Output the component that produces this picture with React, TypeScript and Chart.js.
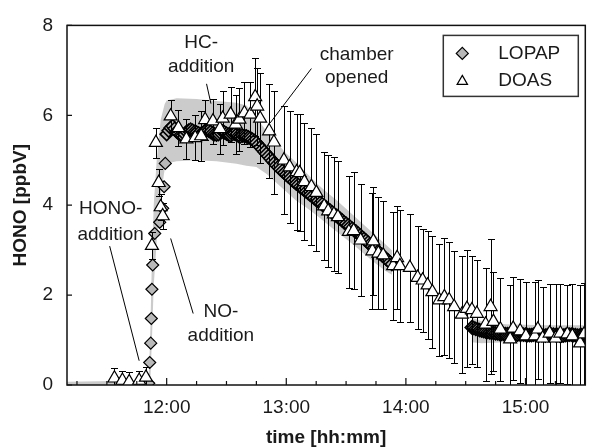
import { useEffect, useRef } from "react";
import { Chart, registerables } from "chart.js";

Chart.register(...registerables);

// time axis in minutes after midnight
const X_MIN = 670; // 11:10
const X_MAX = 930; // 15:30
const X_MAJOR = [720, 780, 840, 900];
const X_MINOR_STEP = 15;
const Y_TICKS = [0, 2, 4, 6, 8];

// LOPAP – isolated points during the HONO addition
const LOPAP_RISE_T = [698, 711.0, 711.5, 712.0, 712.3, 712.6, 713.0, 714.0, 716.5, 718.0, 718.7, 719.3];
const LOPAP_RISE_V = [-0.05, 0.04, 0.5, 0.93, 1.48, 2.13, 2.67, 3.37, 3.62, 3.93, 4.41, 4.93];

// LOPAP – 1-min data from 12:00 to 13:53
const LOPAP_A_START = 720;
const LOPAP_A = [
  5.58, 5.66, 5.72, 5.76, 5.70, 5.64, 5.60, 5.56, 5.55, 5.58,
  5.63, 5.66, 5.68, 5.66, 5.63, 5.62, 5.60, 5.58, 5.60, 5.64,
  5.67, 5.66, 5.63, 5.60, 5.58, 5.57, 5.58, 5.61, 5.64, 5.62,
  5.59, 5.57, 5.56, 5.58, 5.59, 5.57, 5.54, 5.53, 5.55, 5.54,
  5.53, 5.51, 5.49, 5.46, 5.43, 5.39, 5.34, 5.29, 5.24, 5.19,
  5.14, 5.09, 5.04, 4.99, 4.94, 4.89, 4.85, 4.80, 4.76, 4.72,
  4.68, 4.64, 4.60, 4.56, 4.52, 4.48, 4.45, 4.41, 4.38, 4.34,
  4.30, 4.27, 4.23, 4.20, 4.16, 4.12, 4.09, 4.05, 4.02, 3.98,
  3.95, 3.91, 3.88, 3.84, 3.80, 3.77, 3.73, 3.70, 3.66, 3.62,
  3.59, 3.55, 3.52, 3.48, 3.44, 3.41, 3.37, 3.33, 3.29, 3.25,
  3.21, 3.17, 3.13, 3.09, 3.05, 3.01, 2.97, 2.93, 2.89, 2.85,
  2.81, 2.77, 2.73, 2.69,
];

// LOPAP – 1-min data from 14:33 to 15:30
const LOPAP_B_START = 873;
const LOPAP_B = [
  1.28, 1.27, 1.25, 1.24, 1.22, 1.21, 1.20, 1.19, 1.18, 1.17,
  1.16, 1.16, 1.15, 1.15, 1.14, 1.14, 1.14, 1.13, 1.13, 1.13,
  1.13, 1.12, 1.12, 1.12, 1.13, 1.13, 1.12, 1.12, 1.11, 1.11,
  1.11, 1.12, 1.12, 1.11, 1.11, 1.11, 1.10, 1.10, 1.11, 1.11,
  1.12, 1.12, 1.11, 1.11, 1.10, 1.10, 1.10, 1.11, 1.11, 1.12,
  1.12, 1.11, 1.11, 1.10, 1.10, 1.11, 1.11, 1.12,
];

// LOPAP uncertainty band (read from the grey envelope)
const BAND1_T = [670, 711, 711.8, 712.6, 713.5, 715, 717, 719, 720, 725, 735, 745, 755, 760, 765, 770, 775, 780, 785, 790, 795, 800, 805, 810, 815, 820, 825, 830, 833];
const BAND1_LO = [-0.03, -0.03, 0.1, 1.0, 2.2, 3.2, 4.2, 4.8, 4.93, 4.98, 5.0, 4.98, 4.92, 4.88, 4.85, 4.70, 4.50, 4.30, 4.10, 3.95, 3.78, 3.60, 3.42, 3.25, 3.07, 2.88, 2.70, 2.53, 2.45];
const BAND1_HI = [0.07, 0.1, 1.2, 2.8, 4.0, 5.0, 5.9, 6.25, 6.33, 6.38, 6.36, 6.32, 6.28, 6.22, 5.95, 5.65, 5.40, 5.15, 4.95, 4.72, 4.50, 4.30, 4.12, 3.92, 3.72, 3.52, 3.32, 3.12, 3.00];
const BAND2_T = [873, 878, 890, 910, 930];
const BAND2_LO = [0.95, 0.93, 0.95, 0.95, 0.95];
const BAND2_HI = [1.5, 1.42, 1.35, 1.33, 1.33];

// DOAS
const DOAS_T = [
  693.8, 697.8, 701.2, 706.2, 709.6,
  712.6, 714.6, 716.0, 717.0, 718.0,
  722.0, 725.9, 729.9, 734.3, 737.3, 739.3, 743.2, 746.7, 748.1, 752.1,
  754.6, 756.5, 759.0, 762.0, 764.4, 765.4, 766.9, 771.4, 773.8, 778.8,
  781.7, 785.2, 786.7, 789.1, 792.6, 795.1, 799.0, 801.0, 803.9, 805.9,
  811.4, 813.8, 817.3, 823.2, 823.7, 826.2, 828.6, 833.6, 835.6, 837.0,
  842.0, 845.9, 848.4, 850.9, 853.3, 856.8, 859.3, 861.7, 864.2, 868.1,
  870.6, 873.1, 875.6, 880.0, 882.5, 883.9, 887.4, 892.3, 893.8, 897.3,
  900.2, 904.7, 906.2, 908.6, 912.1, 915.1, 917.5, 921.0, 923.5, 927.4,
  929.4,
];
const DOAS_V = [
  0.15, 0.10, 0.07, 0.10, 0.17,
  3.10, 5.39, 4.50, 3.96, 3.76,
  5.98, 5.72, 5.47, 5.50, 5.54, 5.90, 5.87, 5.70, 5.93, 6.02,
  5.80, 5.91, 6.05, 6.02, 6.41, 6.20, 5.93, 5.65, 5.40, 5.00,
  4.85, 4.74, 4.72, 4.52, 4.41, 4.28, 3.98, 3.87, 3.80, 3.74,
  3.41, 3.43, 3.22, 2.98, 3.20, 2.93, 2.89, 2.65, 2.83, 2.65,
  2.61, 2.39, 2.33, 2.22, 2.07, 1.89, 1.96, 1.89, 1.74, 1.57,
  1.70, 1.67, 1.59, 1.35, 1.74, 1.41, 1.24, 1.02, 1.26, 1.20,
  1.09, 1.09, 1.24, 1.04, 1.15, 1.04, 1.15, 1.13, 1.09, 0.93,
  1.13,
];
const DOAS_ERR = [
  0.22, 0.22, 0.22, 0.22, 0.22,
  0.30, 0.33, 0.30, 0.30, 0.30,
  0.35, 0.40, 0.45, 0.50, 0.55, 0.45, 0.50, 0.55, 0.60, 0.62,
  0.65, 0.70, 0.68, 0.72, 0.87, 0.85, 1.00, 1.05, 1.15, 1.20,
  1.25, 1.30, 1.30, 1.30, 1.30, 1.30, 1.20, 1.25, 1.27, 1.25,
  1.25, 1.30, 1.25, 1.30, 1.20, 1.25, 1.20, 1.20, 1.15, 1.25,
  1.20, 1.15, 1.15, 1.20, 1.25, 1.25, 1.30, 1.30, 1.25, 1.30,
  1.30, 1.20, 1.20, 1.25, 1.50, 1.10, 1.15, 1.20, 1.15, 1.15,
  1.20, 1.20, 1.10, 1.15, 1.10, 1.20, 1.10, 1.10, 1.15, 1.30,
  1.15,
];

// annotations: text lines centred at (t, v); leader line from/to (t, v)
const ANNOTATIONS = [
  { lines: ["HC-", "addition"], t: 737.3, v: [7.61, 7.07], from: [740.0, 6.70], to: [742.2, 6.26] },
  { lines: ["chamber", "opened"], t: 815.3, v: [7.35, 6.83], from: [792.6, 7.04], to: [771.9, 5.83] },
  { lines: ["HONO-", "addition"], t: 691.9, v: [3.91, 3.35], from: [691.4, 3.09], to: [706.2, 0.54] },
  { lines: ["NO-", "addition"], t: 747.2, v: [1.63, 1.09], from: [733.3, 1.59], to: [722.0, 3.26] },
];

const LEGEND = ["LOPAP", "DOAS"];

const FONT = "'Liberation Sans', Arial, Helvetica, sans-serif";
const INK = "#1a1a1a";
const LOPAP_FILL = "#b9b9b9";
const BAND_FILL = "#cbcbcb";

function fmt(m: number) {
  const h = Math.floor(m / 60);
  const mm = Math.round(m - h * 60);
  return `${h}:${mm < 10 ? "0" : ""}${mm}`;
}

function pts(ts: number[], vs: number[]) {
  return ts.map((t, i) => ({ x: t, y: vs[i] }));
}

function drawDiamond(ctx: CanvasRenderingContext2D, x: number, y: number, r: number) {
  ctx.beginPath();
  ctx.moveTo(x - r, y);
  ctx.lineTo(x, y - r);
  ctx.lineTo(x + r, y);
  ctx.lineTo(x, y + r);
  ctx.closePath();
  ctx.fillStyle = LOPAP_FILL;
  ctx.fill();
  ctx.strokeStyle = "#000";
  ctx.lineWidth = 1.2;
  ctx.stroke();
}

function drawTriangle(ctx: CanvasRenderingContext2D, x: number, y: number, r: number) {
  ctx.beginPath();
  ctx.moveTo(x, y - r);
  ctx.lineTo(x + r * 0.866, y + r * 0.5);
  ctx.lineTo(x - r * 0.866, y + r * 0.5);
  ctx.closePath();
  ctx.fillStyle = "#fff";
  ctx.fill();
  ctx.strokeStyle = "#000";
  ctx.lineWidth = 1.2;
  ctx.stroke();
}

const overlay = {
  id: "overlay",
  beforeDatasetDraw(chart: any, args: any) {
    const ds = chart.data.datasets[args.index];
    if (ds.label !== "DOAS") return;
    const { ctx, chartArea } = chart;
    const xs = chart.scales.x;
    const ys = chart.scales.y;
    ctx.save();
    ctx.beginPath();
    ctx.rect(chartArea.left, chartArea.top, chartArea.right - chartArea.left, chartArea.bottom - chartArea.top);
    ctx.clip();
    ctx.strokeStyle = "#000";
    ctx.lineWidth = 1;
    for (let i = 0; i < DOAS_T.length; i++) {
      const x = Math.round(xs.getPixelForValue(DOAS_T[i])) + 0.5;
      const yt = Math.round(ys.getPixelForValue(DOAS_V[i] + DOAS_ERR[i])) + 0.5;
      const yb = Math.round(ys.getPixelForValue(DOAS_V[i] - DOAS_ERR[i])) + 0.5;
      ctx.beginPath();
      ctx.moveTo(x, yt);
      ctx.lineTo(x, yb);
      ctx.moveTo(x - 3.5, yt);
      ctx.lineTo(x + 3.5, yt);
      ctx.moveTo(x - 3.5, yb);
      ctx.lineTo(x + 3.5, yb);
      ctx.stroke();
    }
    ctx.restore();
  },
  afterDraw(chart: any) {
    const { ctx, chartArea } = chart;
    const xs = chart.scales.x;
    const ys = chart.scales.y;
    const { left, right, top, bottom } = chartArea;
    ctx.save();
    // frame
    ctx.strokeStyle = "#111";
    ctx.lineWidth = 1.5;
    ctx.strokeRect(left, top, right - left, bottom - top);
    // inward ticks
    ctx.lineWidth = 1.2;
    ctx.beginPath();
    for (const v of Y_TICKS) {
      const y = ys.getPixelForValue(v);
      ctx.moveTo(left, y);
      ctx.lineTo(left + 5, y);
    }
    for (let m = Math.ceil(X_MIN / X_MINOR_STEP) * X_MINOR_STEP; m < X_MAX; m += X_MINOR_STEP) {
      const x = xs.getPixelForValue(m);
      const major = X_MAJOR.includes(m);
      ctx.moveTo(x, bottom);
      ctx.lineTo(x, bottom - (major ? 7 : 4));
    }
    ctx.stroke();

    // annotations
    ctx.fillStyle = INK;
    ctx.font = `19px ${FONT}`;
    ctx.textAlign = "center";
    ctx.textBaseline = "middle";
    ctx.strokeStyle = "#000";
    ctx.lineWidth = 1;
    for (const a of ANNOTATIONS) {
      a.lines.forEach((s, i) => {
        ctx.fillText(s, xs.getPixelForValue(a.t), ys.getPixelForValue(a.v[i]));
      });
      ctx.beginPath();
      ctx.moveTo(xs.getPixelForValue(a.from[0]), ys.getPixelForValue(a.from[1]));
      ctx.lineTo(xs.getPixelForValue(a.to[0]), ys.getPixelForValue(a.to[1]));
      ctx.stroke();
    }

    // legend
    const bx = right - 142;
    const by = top + 10;
    ctx.fillStyle = "#fff";
    ctx.fillRect(bx, by, 135, 61);
    ctx.strokeStyle = "#333";
    ctx.lineWidth = 1.5;
    ctx.strokeRect(bx, by, 135, 61);
    drawDiamond(ctx, bx + 19, by + 18, 6);
    drawTriangle(ctx, bx + 19, by + 46, 6);
    ctx.fillStyle = INK;
    ctx.font = `19px ${FONT}`;
    ctx.textAlign = "left";
    ctx.textBaseline = "middle";
    ctx.fillText(LEGEND[0], bx + 55, by + 18);
    ctx.fillText(LEGEND[1], bx + 55, by + 45);
    ctx.restore();
  },
};

export default function App() {
  const ref = useRef<HTMLCanvasElement | null>(null);
  useEffect(() => {
    if (!ref.current) return;
    const risePts = pts(LOPAP_RISE_T, LOPAP_RISE_V);
    const densePts = [
      ...LOPAP_A.map((v, i) => ({ x: LOPAP_A_START + i, y: v })),
      ...LOPAP_B.map((v, i) => ({ x: LOPAP_B_START + i, y: v })),
    ];
    const bandBase = {
      type: "line" as const,
      pointRadius: 0,
      borderWidth: 0,
      borderColor: "rgba(0,0,0,0)",
      backgroundColor: BAND_FILL,
      tension: 0,
    };
    const chart = new Chart(ref.current, {
      type: "scatter",
      data: {
        datasets: [
          {
            label: "DOAS",
            data: pts(DOAS_T, DOAS_V),
            pointStyle: "triangle",
            pointRadius: 7.5,
            pointBackgroundColor: "#fff",
            pointBorderColor: "#000",
            pointBorderWidth: 1.2,
            order: 0,
          } as any,
          {
            label: "LOPAP",
            data: densePts,
            pointStyle: "rectRot",
            pointRadius: 6.5,
            pointBackgroundColor: LOPAP_FILL,
            pointBorderColor: "#000",
            pointBorderWidth: 1.6,
            order: 1,
          } as any,
          {
            label: "LOPAP rise",
            data: risePts,
            pointStyle: "rectRot",
            pointRadius: 6,
            pointBackgroundColor: LOPAP_FILL,
            pointBorderColor: "#000",
            pointBorderWidth: 1.2,
            order: 2,
          } as any,
          { ...bandBase, label: "b1hi", data: pts(BAND1_T, BAND1_HI), fill: false, order: 6 } as any,
          { ...bandBase, label: "b1lo", data: pts(BAND1_T, BAND1_LO), fill: "-1", order: 5 } as any,
          { ...bandBase, label: "b2hi", data: pts(BAND2_T, BAND2_HI), fill: false, order: 4 } as any,
          { ...bandBase, label: "b2lo", data: pts(BAND2_T, BAND2_LO), fill: "-1", order: 3 } as any,
        ],
      },
      options: {
        responsive: false,
        animation: false,
        events: [],
        layout: { padding: { top: 17, right: 2, left: 0, bottom: 0 } },
        plugins: { legend: { display: false }, tooltip: { enabled: false } },
        scales: {
          x: {
            type: "linear",
            min: X_MIN,
            max: X_MAX,
            grid: { display: false, drawTicks: false },
            border: { display: false },
            afterBuildTicks: (s: any) => {
              s.ticks = X_MAJOR.map((v) => ({ value: v }));
            },
            afterFit: (s: any) => {
              s.height = 62;
            },
            ticks: {
              padding: 11,
              color: INK,
              font: { family: FONT, size: 19 },
              callback: (v: any) => fmt(Number(v)),
              maxRotation: 0,
              autoSkip: false,
            },
            title: {
              display: true,
              text: "time [hh:mm]",
              color: INK,
              font: { family: FONT, size: 19, weight: "bold", lineHeight: 1 },
              padding: { top: 0, bottom: 0 },
            },
          },
          y: {
            type: "linear",
            min: 0,
            max: 8,
            grid: { display: false, drawTicks: false },
            border: { display: false },
            afterBuildTicks: (s: any) => {
              s.ticks = Y_TICKS.map((v) => ({ value: v }));
            },
            afterFit: (s: any) => {
              s.width = 67;
            },
            ticks: {
              padding: 14,
              color: INK,
              font: { family: FONT, size: 19 },
            },
            title: {
              display: true,
              text: "HONO [ppbV]",
              color: INK,
              font: { family: FONT, size: 19, weight: "bold", lineHeight: 1 },
              padding: { top: 11, bottom: 0 },
            },
          },
        },
      } as any,
      plugins: [overlay as any],
    });
    return () => chart.destroy();
  }, []);
  return (
    <div style={{ position: "absolute", left: 0, top: 0, width: 594, height: 447, background: "#fff" }}>
      <canvas ref={ref} width={594} height={447} style={{ width: 594, height: 447, display: "block" }} />
    </div>
  );
}
